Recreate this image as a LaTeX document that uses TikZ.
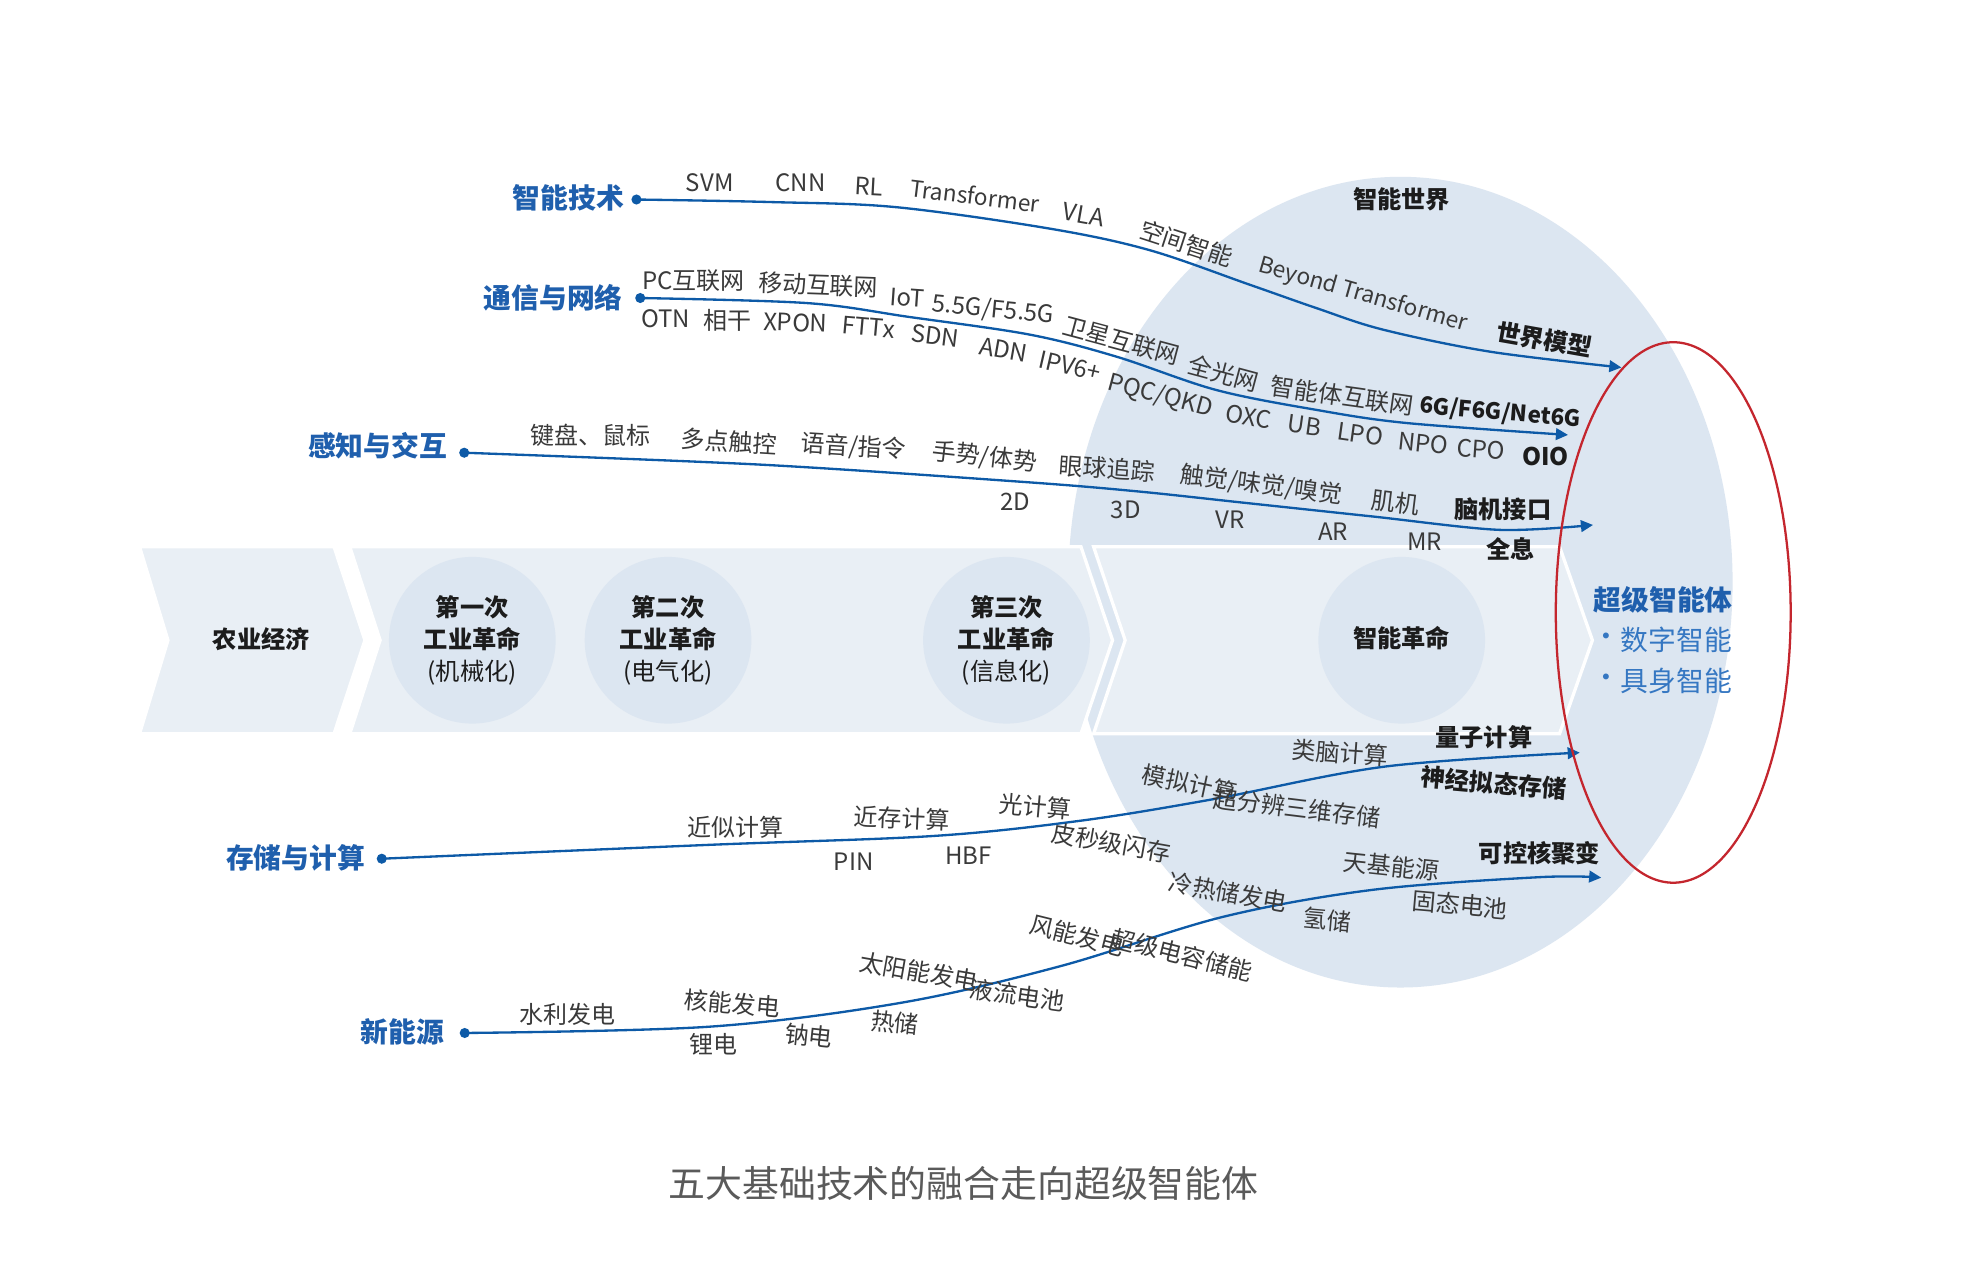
\documentclass[tikz,border=0pt]{standalone}
\usepackage{fontspec}
\setmainfont{Noto Sans CJK SC}
\usetikzlibrary{arrows.meta}
\definecolor{lineblue}{HTML}{0D5AA7}
\definecolor{catblue}{HTML}{1F5FAD}
\definecolor{rblue}{HTML}{3577C2}
\definecolor{circ}{HTML}{DCE6F1}
\definecolor{band}{HTML}{E9EFF5}
\definecolor{txt}{HTML}{3A3A3A}
\definecolor{txtb}{HTML}{1C1C1C}
\definecolor{redc}{HTML}{C4262E}
\definecolor{capc}{HTML}{5A5A5A}
\begin{document}
\begin{tikzpicture}[x=0.5pt,y=-0.5pt,
  lbl/.style={font=\fontsize{9.5}{11}\selectfont, text=txt, inner sep=0pt},
  lat/.style={font=\fontsize{9}{11}\selectfont, text=txt, inner sep=0pt},
  blbl/.style={font=\fontsize{9.6}{11}\selectfont\bfseries, text=txtb, inner sep=0pt},
  cat/.style={font=\fontsize{11}{13}\selectfont\bfseries, text=catblue, inner sep=0pt},
  pdot/.style={circle, fill=lineblue, inner sep=0pt, minimum size=4pt},
  conn/.style={draw=lineblue, line width=0.92pt, -{Triangle[length=4.8pt,width=4.6pt]}},
  chev/.style={fill=band, draw=white, line width=1.3pt},
  era/.style={circle, fill=circ, minimum size=66pt, inner sep=0pt},
  eratext/.style={font=\fontsize{9.6}{12.75}\selectfont, text=txtb, align=center, inner sep=0pt},
  sitext/.style={font=\fontsize{11}{13}\selectfont, text=rblue, inner sep=0pt},
]
\useasboundingbox (0,0) rectangle (1560,1010);
\fill[white] (0,0) rectangle (1560,1010);

% big world circle
\fill[circ] (1109,461) ellipse [x radius=263, y radius=321];
\node[blbl] (world) at (1110,158) {智能世界};

% band chevrons
\draw[chev] (110.5,433) -- (264.5,433) -- (289,507) -- (264.5,581) -- (110.5,581) -- (133,507) -- cycle;
\draw[chev] (277,433) -- (856,433) -- (881,507) -- (856,581) -- (277,581) -- (301,507) -- cycle;
\draw[chev] (866,433) -- (1235,433) -- (1261,507) -- (1235,581) -- (866,581) -- (891,507) -- cycle;

\node[era] (c1) at (374,507) {};
\node[era] (c2) at (529,507) {};
\node[era] (c3) at (797,507) {};
\node[era] (c4) at (1110,507) {};

\node[blbl] (agri) at (207,506) {农业经济};
\node[eratext] (e1) at (374,507) {\textbf{第一次}\\\textbf{工业革命}\\(机械化)};
\node[eratext] (e2) at (529,507) {\textbf{第二次}\\\textbf{工业革命}\\(电气化)};
\node[eratext] (e3) at (797,507) {\textbf{第三次}\\\textbf{工业革命}\\(信息化)};
\node[blbl] (e4) at (1110,505) {智能革命};

% ---------- line 1: 智能技术
\node[cat] (k1) at (450,156.5) {智能技术};
\node[pdot] (d1) at (504,158) {};
\draw[conn] plot[smooth, tension=0.55] coordinates {(d1.center) (610,160) (709,164) (831,181) (910,198) (990,225.6) (1042.5,244) (1095,261) (1180,278.5) (1284,291)};
\node[lbl] (a1) at (562,145) {SVM};
\node[lbl] (a2) at (634,145) {CNN};
\node[lbl, rotate=-3] (a3) at (688,148) {RL};
\node[lat, rotate=-7] (a4) at (772,155) {Transformer};
\node[lbl, rotate=-10] (a5) at (858,170) {VLA};
\node[lbl, rotate=-18] (a6) at (939.6,192.7) {空间智能};
\node[lat, rotate=-16] (a7) at (1079.4,233.6) {Beyond Transformer};
\node[blbl, rotate=-10] (a8) at (1223,269) {世界模型};

% ---------- line 2: 通信与网络
\node[cat] (k2) at (438,235.5) {通信与网络};
\node[pdot] (d2) at (507,236) {};
\draw[conn] plot[smooth, tension=0.55] coordinates {(d2.center) (639,240) (720,251) (815.5,265) (884,282.4) (963,308.8) (1042.5,324.6) (1114,335) (1241.7,344.4)};
\node[lbl] (b1) at (549,222) {PC互联网};
\node[lbl, rotate=-2] (b2) at (648,225.5) {移动互联网};
\node[lbl, rotate=-4] (b3) at (718.6,236) {IoT};
\node[lbl, rotate=-5.5] (b4) at (786.5,245.5) {5.5G/F5.5G};
\node[lbl, rotate=-15] (b5) at (888,269.7) {卫星互联网};
\node[lbl, rotate=-15] (b6) at (968.6,295.6) {全光网};
\node[lbl, rotate=-8] (b7) at (1063,313.5) {智能体互联网};
\node[blbl, font=\fontsize{8.9}{11}\selectfont\bfseries, rotate=-5] (b8) at (1188,327) {6G/F6G/Net6G};
\node[lbl] (b9) at (527,252.6) {OTN};
\node[lbl] (b10) at (576.4,254) {相干};
\node[lbl, rotate=-2] (b11) at (630,255.3) {XPON};
\node[lbl, rotate=-5] (b12) at (687.6,259) {FTTx};
\node[lbl, rotate=-7] (b13) at (740.6,266) {SDN};
\node[lbl, rotate=-10] (b14) at (794.6,277) {ADN};
\node[lbl, rotate=-13] (b15) at (847.5,290) {IPV6+};
\node[lbl, rotate=-15] (b16) at (919,313.5) {PQC/QKD};
\node[lbl, rotate=-10] (b17) at (989,330) {OXC};
\node[lbl, rotate=-8] (b18) at (1033,337) {UB};
\node[lbl, rotate=-8] (b19) at (1077,344) {LPO};
\node[lbl, rotate=-6] (b20) at (1127,351) {NPO};
\node[lbl, rotate=-4] (b21) at (1172.7,356) {CPO};
\node[blbl] (b22) at (1224,361.6) {OIO};

% ---------- line 3: 感知与交互
\node[cat] (k3) at (299,353) {感知与交互};
\node[pdot] (d3) at (367.6,358.5) {};
\draw[conn] plot[smooth, tension=0.5] coordinates {(d3.center) (603.5,368) (815.5,382) (902.6,389.3) (984,398) (1087,409) (1187.6,419.6) (1261.5,415.7)};
\node[lbl] (s1) at (467.6,345) {键盘、鼠标};
\node[lbl, rotate=-3.5] (s2) at (577.4,349.6) {多点触控};
\node[lbl, rotate=-3.5] (s3) at (676,354) {语音/指令};
\node[lbl, rotate=-6.5] (s4) at (779.6,362) {手势/体势};
\node[lbl, rotate=-4] (s5) at (877,370.8) {眼球追踪};
\node[lbl, rotate=-7.5] (s6) at (999,384) {触觉/味觉/嗅觉};
\node[lbl, rotate=-7] (s7) at (1105,398) {肌机};
\node[blbl] (s8) at (1190,403.7) {脑机接口};
\node[lbl] (s9) at (804,397) {2D};
\node[lbl] (s10) at (891.5,404) {3D};
\node[lbl] (s11) at (974,411.7) {VR};
\node[lbl] (s12) at (1055.7,421) {AR};
\node[lbl] (s13) at (1128.3,429) {MR};
\node[blbl] (s14) at (1196,435) {全息};

% ---------- line 4: 存储与计算
\node[cat] (k4) at (234,679) {存储与计算};
\node[pdot] (d4) at (302.3,680) {};
\draw[conn] plot[smooth, tension=0.55] coordinates {(d4.center) (562,669) (739,662) (855,650) (960,633) (1097,607) (1251,596)};
\node[lbl] (m1) at (582.5,655) {近似计算};
\node[lbl, rotate=-2.5] (m2) at (714,648) {近存计算};
\node[lbl, rotate=-5] (m3) at (820,638.5) {光计算};
\node[lbl, rotate=-12] (m4) at (942,620.5) {模拟计算};
\node[lbl, rotate=-4] (m5) at (1061,596) {类脑计算};
\node[blbl] (m6) at (1175,583.5) {量子计算};
\node[lbl] (m7) at (676,682) {PIN};
\node[lbl] (m8) at (767,678) {HBF};
\node[lbl, rotate=-10] (m9) at (880,667.5) {皮秒级闪存};
\node[lbl, rotate=-7] (m10) at (1027,640) {超分辨三维存储};
\node[blbl, rotate=-5] (m11) at (1183,620) {神经拟态存储};

% ---------- line 5: 新能源
\node[cat] (k5) at (318.6,817.5) {新能源};
\node[pdot] (d5) at (368,818) {};
\draw[conn] plot[smooth, tension=0.55] coordinates {(d5.center) (562,813) (714,794) (840,765) (968.6,726) (1087.3,704.6) (1219.3,694.6) (1268,695)};
\node[lbl] (n1) at (449,803.6) {水利发电};
\node[lbl, rotate=-5] (n2) at (580,794.5) {核能发电};
\node[lbl, rotate=-10] (n3) at (727.6,769.5) {太阳能发电};
\node[lbl, rotate=-14] (n4) at (853,741) {风能发电};
\node[lbl, rotate=-10] (n5) at (972.5,706.7) {冷热储发电};
\node[lbl, rotate=-6] (n6) at (1101.8,686) {天基能源};
\node[blbl] (n7) at (1219,675.5) {可控核聚变};
\node[lbl] (n8) at (565,827) {锂电};
\node[lbl, rotate=-6] (n9) at (640.5,820) {钠电};
\node[lbl, rotate=-6] (n10) at (708.6,810) {热储};
\node[lbl, rotate=-8] (n11) at (805.5,788) {液流电池};
\node[lbl, rotate=-14] (n12) at (936,756) {超级电容储能};
\node[lbl, rotate=-5] (n13) at (1051,728.4) {氢储};
\node[lbl, rotate=-5] (n14) at (1156,716.5) {固态电池};

% ---------- super intelligence
\draw[redc, line width=0.9pt] (1325,485) ellipse [x radius=93, y radius=214];
\node[cat] (si) at (1317,475) {超级智能体};
\node[sitext] (sd1) at (1272,507) {·};
\node[sitext, anchor=west] (si1) at (1283,507) {数字智能};
\node[sitext] (sd2) at (1272,539) {·};
\node[sitext, anchor=west] (si2) at (1283,539) {具身智能};

% caption
\node[font=\fontsize{14.6}{17}\selectfont, text=capc, inner sep=0pt] (cap) at (763,937.5) {五大基础技术的融合走向超级智能体};
\end{tikzpicture}
\end{document}
